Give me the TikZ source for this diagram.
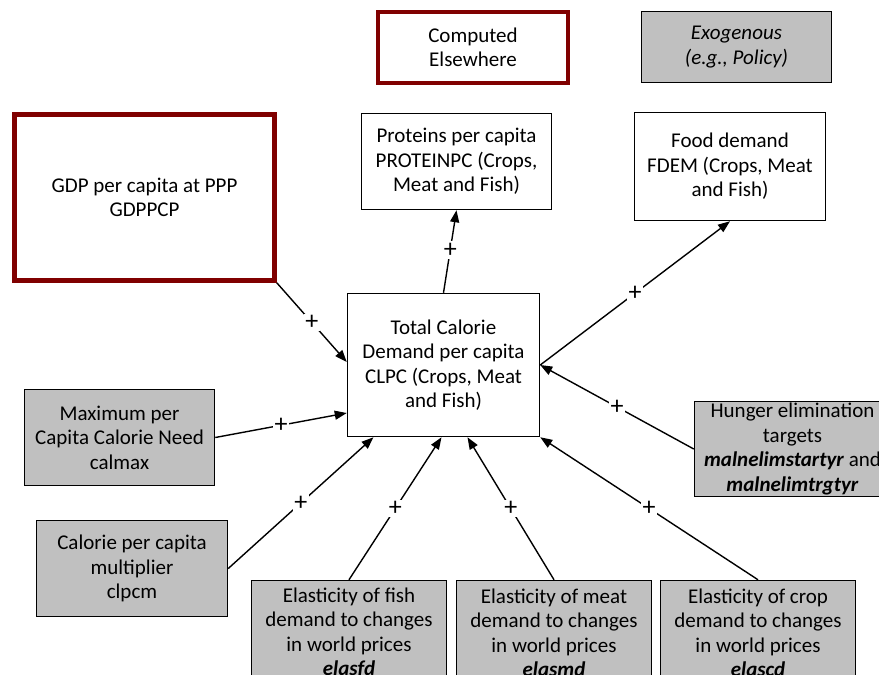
\documentclass[tikz,border=0pt]{standalone}
\usepackage{fontspec}
\setmainfont{Carlito}
\usetikzlibrary{arrows.meta,calc}
\definecolor{maroon}{RGB}{128,0,0}
\definecolor{exofill}{RGB}{192,192,192}
% a line of zero width, set slightly left of the node centre
\newcommand{\midline}[1]{\makebox[0pt]{#1\hspace*{34pt}}}
\begin{document}
\begin{tikzpicture}[x=1pt,y=-1pt,
  font=\fontsize{21}{24.5}\selectfont,
  box/.style={draw=black,line width=1.5pt,fill=white,align=center,inner sep=0pt},
  computed/.style={box,draw=maroon,line width=4.5pt},
  exo/.style={box,fill=exofill},
  link/.style={line width=1.4pt,-{Triangle[length=12pt,width=9pt]}},
  plus/.style={fill=white,inner sep=1.5pt,font=\fontsize{26}{26}\selectfont}]
\useasboundingbox (0,0) rectangle (879,675);
\clip (0,0) rectangle (879,675);

% legend
\node[computed,minimum width=190pt,minimum height=71pt] (legc) at (473,47.5) {Computed\\Elsewhere};
\node[exo,minimum width=190pt,minimum height=71pt] (lege) at (736.5,47) {\itshape Exogenous\\\itshape(e.g., Policy)};

% variables
\node[computed,minimum width=260pt,minimum height=166pt] (gdp) at (144.5,197.5) {GDP per capita at PPP\\GDPPCP};
\node[box,minimum width=190pt,minimum height=96pt] (prot) at (456.5,161.5) {Proteins per capita\\PROTEINPC (Crops,\\Meat and Fish)};
\node[box,minimum width=191pt,minimum height=108pt] (fdem) at (730,166.5) {Food demand\\FDEM (Crops, Meat\\and Fish)};
\node[box,minimum width=192pt,minimum height=143pt] (clpc) at (443.5,365) {Total Calorie\\Demand per capita\\CLPC (Crops, Meat\\and Fish)};
\node[exo,minimum width=190pt,minimum height=96pt] (calmax) at (119.5,437.5) {Maximum per\\Capita Calorie Need\\calmax};
\node[exo,minimum width=191pt,minimum height=96pt] (clpcm) at (132,568.5) {Calorie per capita\\multiplier\\clpcm};
\node[exo,minimum width=230pt,minimum height=95pt] (hunger) at (809.5,449)
  {\midline{Hunger elimination}\\\midline{targets}\\\midline{\textbf{\textit{malnelimstartyr}} and}\\\midline{\textbf{\textit{malnelimtrgtyr}}}};
\node[exo,minimum width=195pt,minimum height=105pt] (elasfd) at (349,633) {Elasticity of fish\\demand to changes\\in world prices\\\textbf{\textit{elasfd}}};
\node[exo,minimum width=195pt,minimum height=105pt] (elasmd) at (554,633) {Elasticity of meat\\demand to changes\\in world prices\\\textbf{\textit{elasmd}}};
\node[exo,minimum width=195pt,minimum height=105pt] (elascd) at (758,633) {Elasticity of crop\\demand to changes\\in world prices\\\textbf{\textit{elascd}}};

% causal links
\draw[link] (clpc.north) -- node[plus,pos=0.52] {+} (prot.south);
\draw[link] (clpc.east) -- node[plus] {+} (fdem.south);
\draw[link] (gdp.south east) -- node[plus] {+} ([yshift=3pt]clpc.west);
\draw[link] (calmax.east) -- node[plus] {+} ([yshift=-48pt]clpc.west);
\draw[link] (clpcm.east) -- node[plus] {+} ([xshift=-70pt]clpc.south);
\draw[link] (elasfd.north) -- node[plus] {+} ([xshift=-2pt]clpc.south);
\draw[link] (elasmd.north) -- node[plus] {+} ([xshift=24pt]clpc.south);
\draw[link] (elascd.north) -- node[plus] {+} (clpc.south east);
\draw[link] (hunger.west) -- node[plus] {+} (clpc.east);
\end{tikzpicture}
\end{document}
